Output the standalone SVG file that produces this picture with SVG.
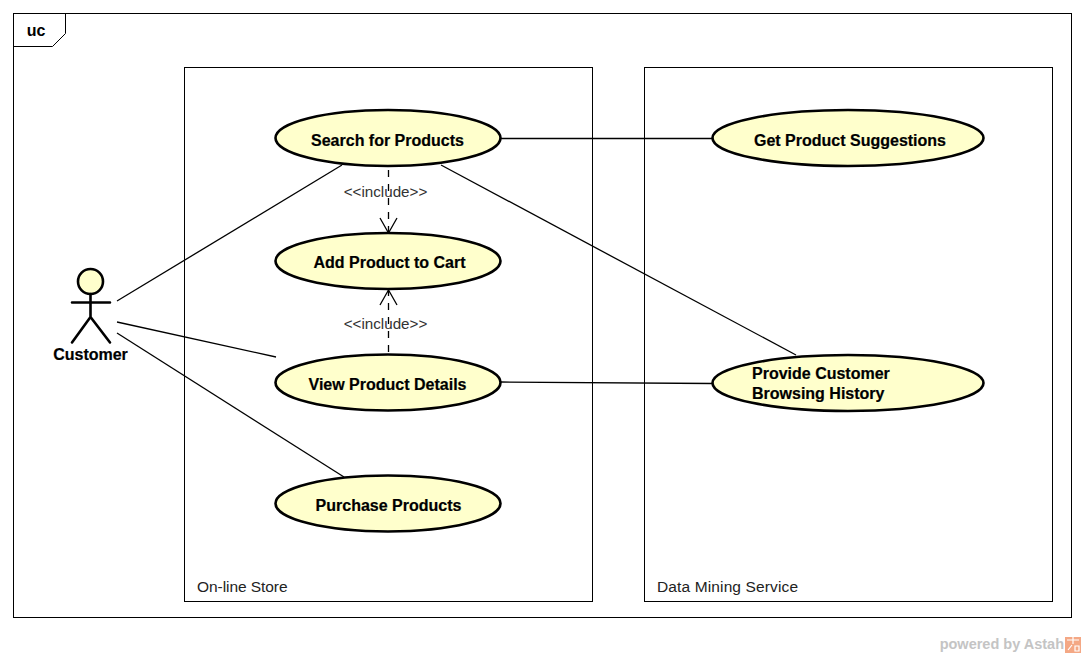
<svg xmlns="http://www.w3.org/2000/svg" width="1085" height="657" viewBox="0 0 1085 657">
<style>
.uc{fill:#ffffcc;stroke:#000;stroke-width:2.6}
.t{font-family:"Liberation Sans",Arial,sans-serif;font-size:16px;font-weight:bold;fill:#000;text-anchor:middle;stroke:#000;stroke-width:.2}
.tl{text-anchor:start}
.frame{fill:none;stroke:#000;stroke-width:1}
.l{font-family:"Liberation Sans",Arial,sans-serif;font-size:15.5px;fill:#222}
.inc{font-family:"Liberation Sans",Arial,sans-serif;font-size:15.2px;fill:#333;text-anchor:middle}
.c{fill:none;stroke:#000;stroke-width:1.3}
.d{stroke-dasharray:7 7}
.a{stroke:#000;stroke-width:2.6;fill:none;stroke-linecap:round;stroke-linejoin:round}
</style>
<rect width="1085" height="657" fill="#fff"/>
<g id="frame">
<rect class="frame" x="13.5" y="13.5" width="1058" height="604"/>
<path class="frame" d="M13.5 46.500H52.500L65.500 33.500V13.500" stroke-width="1.300"/>
<text x="36" y="36" font-family="'Liberation Sans',Arial,sans-serif" font-size="16" font-weight="bold" text-anchor="middle">uc</text>
</g>
<g id="online-store">
<rect class="frame" x="184.5" y="67.5" width="408" height="534"/>
<text class="l" x="197" y="591.500" textLength="90.500">On-line Store</text>
</g>
<g id="data-mining">
<rect class="frame" x="644.5" y="67.5" width="408" height="534"/>
<text class="l" x="657" y="591.500" textLength="141">Data Mining Service</text>
</g>
<g id="connectors">
<path class="c" d="M117 301L342 165"/>
<path class="c" d="M117 322L276 357"/>
<path class="c" d="M117 333L344 477"/>
<path class="c" d="M501 138.500H712"/>
<path class="c" d="M441 165L796 355"/>
<path class="c" d="M501 382L712 383.500"/>
<path class="c d" d="M388.500 170V233"/>
<path class="c d" d="M388.500 352V290"/>
<path class="c" d="M380 218L388.500 233L397 218"/>
<path class="c" d="M380 305L388.500 290L397 305"/>
</g>
<text class="inc" x="385.500" y="197">&lt;&lt;include&gt;&gt;</text>
<text class="inc" x="385.500" y="329">&lt;&lt;include&gt;&gt;</text>
<g id="customer">
<circle cx="90.500" cy="281.500" r="12.500" fill="#ffffcc" stroke="#000" stroke-width="2.600"/>
<path class="a" d="M72 302.500H110M90.500 294V317M72 342.500L90.500 317L110 342.500"/>
<text class="t" x="90.500" y="360">Customer</text>
</g>
<g id="search">
<ellipse class="uc" cx="388" cy="138" rx="112.500" ry="28"/>
<text class="t" x="387.500" y="145.500">Search for Products</text>
</g>
<g id="add">
<ellipse class="uc" cx="388" cy="261" rx="112.500" ry="28"/>
<text class="t" x="389.500" y="267.500">Add Product to Cart</text>
</g>
<g id="view">
<ellipse class="uc" cx="388" cy="382.500" rx="112.500" ry="28"/>
<text class="t" x="387.500" y="389.500">View Product Details</text>
</g>
<g id="purchase">
<ellipse class="uc" cx="388" cy="503.500" rx="112.500" ry="28"/>
<text class="t" x="388.500" y="510.500">Purchase Products</text>
</g>
<g id="suggest">
<ellipse class="uc" cx="848" cy="138" rx="135.500" ry="28"/>
<text class="t" x="850" y="145.500">Get Product Suggestions</text>
</g>
<g id="history">
<ellipse class="uc" cx="848" cy="383" rx="135.500" ry="28"/>
<text class="t tl" x="752" y="378.500">Provide Customer</text>
<text class="t tl" x="752" y="398.500">Browsing History</text>
</g>
<g id="watermark">
<text x="1064" y="649" font-family="'Liberation Sans',Arial,sans-serif" font-size="14.500" font-weight="bold" fill="#c4c4c4" text-anchor="end">powered by Astah</text>
<rect x="1065" y="637" width="16" height="16" fill="#f4a885"/>
<path d="M1067 640H1079M1073 637V644M1068 650L1072 645M1075 646H1079V651H1075Z" stroke="#fff" stroke-width="1.200" fill="none"/>
</g>
</svg>
